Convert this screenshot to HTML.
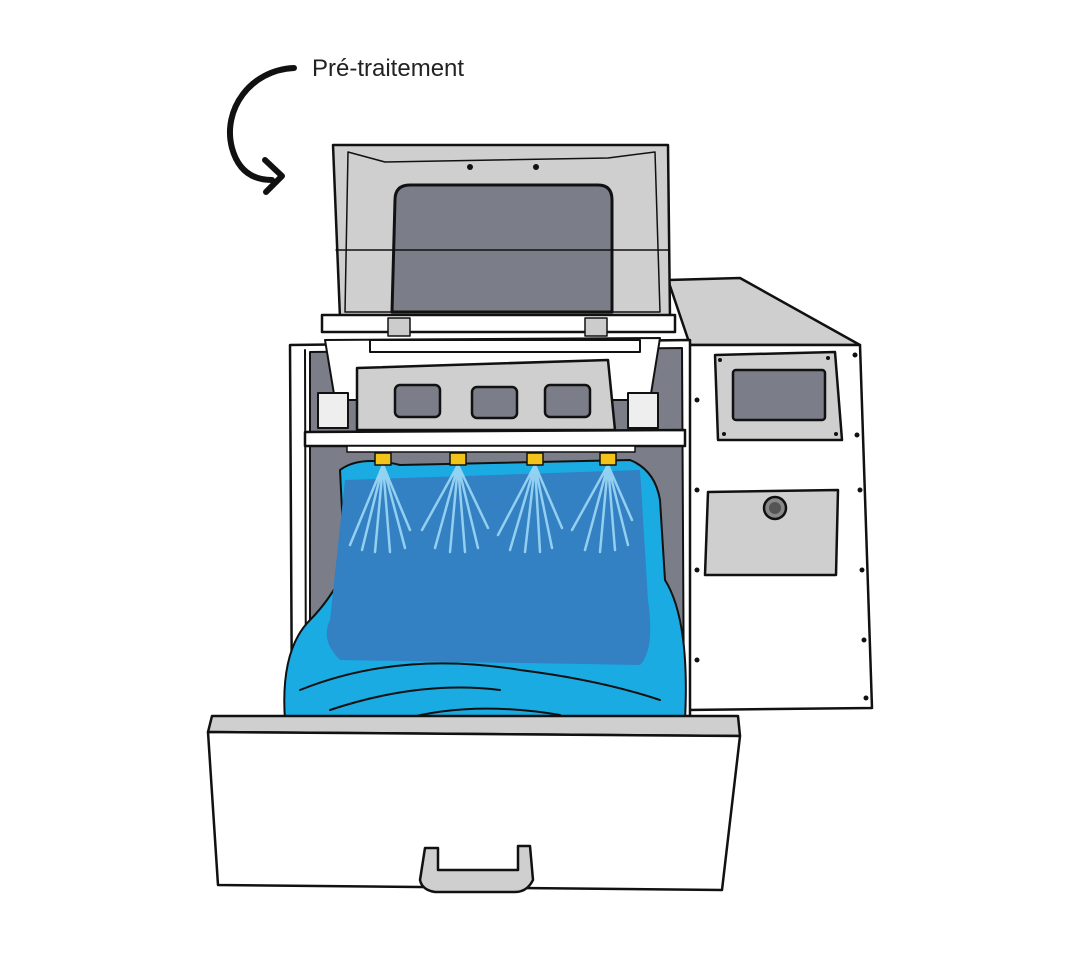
<!DOCTYPE html>
<html><head><style>
html,body{margin:0;padding:0;background:#fff;width:1082px;height:959px;overflow:hidden}
svg{display:block}
</style></head><body>
<svg width="1082" height="959" viewBox="0 0 1082 959" xmlns="http://www.w3.org/2000/svg" stroke-linejoin="round" stroke-linecap="round">
<text x="312" y="76" font-family="Liberation Sans, sans-serif" font-size="24" fill="#222">Pré-traitement</text>
<path d="M294 68 C250 70 222 110 232 148 C238 170 252 180 272 180" fill="none" stroke="#111" stroke-width="6"/>
<path d="M265 160 L282 176 L266 192" fill="none" stroke="#111" stroke-width="6"/>

<!-- right cabinet -->
<polygon points="668,280 740,278 860,345 690,345" fill="#cfcfcf" stroke="#111" stroke-width="2.5"/>
<polygon points="685,345 860,345 872,708 686,710" fill="#fff" stroke="#111" stroke-width="2.5"/>
<polygon points="715,355 835,352 842,440 718,440" fill="#cfcfcf" stroke="#111" stroke-width="2.5"/>
<rect x="733" y="370" width="92" height="50" rx="3" fill="#7b7e88" stroke="#111" stroke-width="2.5"/>
<polygon points="708,492 838,490 836,575 705,575" fill="#cfcfcf" stroke="#111" stroke-width="2.5"/>
<circle cx="775" cy="508" r="11" fill="#888" stroke="#111" stroke-width="2.5"/>
<circle cx="775" cy="508" r="6" fill="#555"/>
<g fill="#111"><circle cx="697" cy="400" r="2.5"/><circle cx="697" cy="490" r="2.5"/><circle cx="697" cy="570" r="2.5"/><circle cx="697" cy="660" r="2.5"/><circle cx="855" cy="355" r="2.5"/><circle cx="857" cy="435" r="2.5"/><circle cx="860" cy="490" r="2.5"/><circle cx="862" cy="570" r="2.5"/><circle cx="864" cy="640" r="2.5"/><circle cx="866" cy="698" r="2.5"/><circle cx="720" cy="360" r="2"/><circle cx="828" cy="358" r="2"/><circle cx="724" cy="434" r="2"/><circle cx="836" cy="434" r="2"/></g>

<!-- main body -->
<polygon points="290,345 690,340 690,720 292,720" fill="#fff" stroke="#111" stroke-width="2.5"/>
<polygon points="310,352 682,348 684,720 310,720" fill="#7b7e88" stroke="#111" stroke-width="2"/>
<line x1="305" y1="350" x2="306" y2="720" stroke="#111" stroke-width="2"/>

<!-- lid -->
<polygon points="333,145 668,145 670,318 340,318" fill="#cfcfcf" stroke="#111" stroke-width="2.5"/>
<path d="M348 152 L385 162 L608 158 L655 152 L660 312 L345 312 Z" fill="#cfcfcf" stroke="#111" stroke-width="1.5"/>
<path d="M395 200 Q395 185 410 185 L598 185 Q612 185 612 200 L612 312 L392 312 Z" fill="#7b7e88" stroke="#111" stroke-width="3"/>
<line x1="336" y1="250" x2="668" y2="250" stroke="#111" stroke-width="1.5"/>
<circle cx="470" cy="167" r="3" fill="#111"/><circle cx="536" cy="167" r="3" fill="#111"/>
<polygon points="322,315 675,315 675,332 322,332" fill="#fff" stroke="#111" stroke-width="2.5"/>
<rect x="388" y="318" width="22" height="18" fill="#ccc" stroke="#111" stroke-width="1.5"/>
<rect x="585" y="318" width="22" height="18" fill="#ccc" stroke="#111" stroke-width="1.5"/>

<!-- carriage -->
<polygon points="325,340 660,338 650,400 335,400" fill="#fff" stroke="#111" stroke-width="2"/>
<polygon points="370,340 640,340 640,352 370,352" fill="#fff" stroke="#111" stroke-width="2"/>
<polygon points="357,368 608,360 615,430 357,430" fill="#cfcfcf" stroke="#111" stroke-width="2.5"/>
<rect x="395" y="385" width="45" height="32" rx="5" fill="#7b7e88" stroke="#111" stroke-width="2.5"/>
<rect x="472" y="387" width="45" height="31" rx="5" fill="#7b7e88" stroke="#111" stroke-width="2.5"/>
<rect x="545" y="385" width="45" height="32" rx="5" fill="#7b7e88" stroke="#111" stroke-width="2.5"/>
<rect x="318" y="393" width="30" height="35" fill="#eee" stroke="#111" stroke-width="2"/>
<rect x="628" y="393" width="30" height="35" fill="#eee" stroke="#111" stroke-width="2"/>
<polygon points="305,432 685,430 685,446 305,446" fill="#fff" stroke="#111" stroke-width="2.5"/>
<rect x="347" y="446" width="288" height="6" fill="#fff" stroke="#111" stroke-width="1.5"/>

<!-- shirt -->
<path d="M340 470 Q360 455 400 465 L630 460 Q655 470 660 500 L665 580 Q690 620 685 720 L285 720 Q280 650 310 620 Q330 600 345 570 Z" fill="#1aabe3" stroke="#111" stroke-width="2"/>
<path d="M345 480 L640 470 L648 600 Q655 650 640 665 L340 660 Q320 640 330 620 Z" fill="#3380c2"/>
<path d="M300 690 Q400 650 520 670 Q600 680 660 700 M330 710 Q420 680 500 690 M400 720 Q470 700 560 715" fill="none" stroke="#111" stroke-width="2"/>

<!-- sprays -->
<g stroke="#9ed8f5" stroke-width="2.5" fill="none" opacity="0.9">
<path d="M383 465 L350 545 M383 465 L362 550 M383 465 L375 552 M383 465 L390 552 M383 465 L405 548 M383 465 L410 530"/>
<path d="M458 465 L422 530 M458 465 L435 548 M458 465 L450 552 M458 465 L465 552 M458 465 L478 548 M458 465 L488 528"/>
<path d="M535 465 L498 535 M535 465 L510 550 M535 465 L525 552 M535 465 L540 552 M535 465 L552 548 M535 465 L562 528"/>
<path d="M608 465 L572 530 M608 465 L585 550 M608 465 L600 552 M608 465 L615 550 M608 465 L628 545 M608 465 L632 520"/>
</g>
<g fill="#f2c318" stroke="#111" stroke-width="1.5">
<rect x="375" y="453" width="16" height="12"/><rect x="450" y="453" width="16" height="12"/><rect x="527" y="453" width="16" height="12"/><rect x="600" y="453" width="16" height="12"/>
</g>

<!-- drawer -->
<polygon points="212,716 738,716 740,736 208,732" fill="#cfcfcf" stroke="#111" stroke-width="2.5"/>
<polygon points="208,732 740,736 722,890 218,885" fill="#fff" stroke="#111" stroke-width="2.5"/>
<path d="M420 880 L425 848 L438 848 L438 870 L518 870 L518 846 L530 846 L533 880 Q527 892 515 892 L435 892 Q422 890 420 880 Z" fill="#cfcfcf" stroke="#111" stroke-width="2.5"/>
</svg>
</body></html>
